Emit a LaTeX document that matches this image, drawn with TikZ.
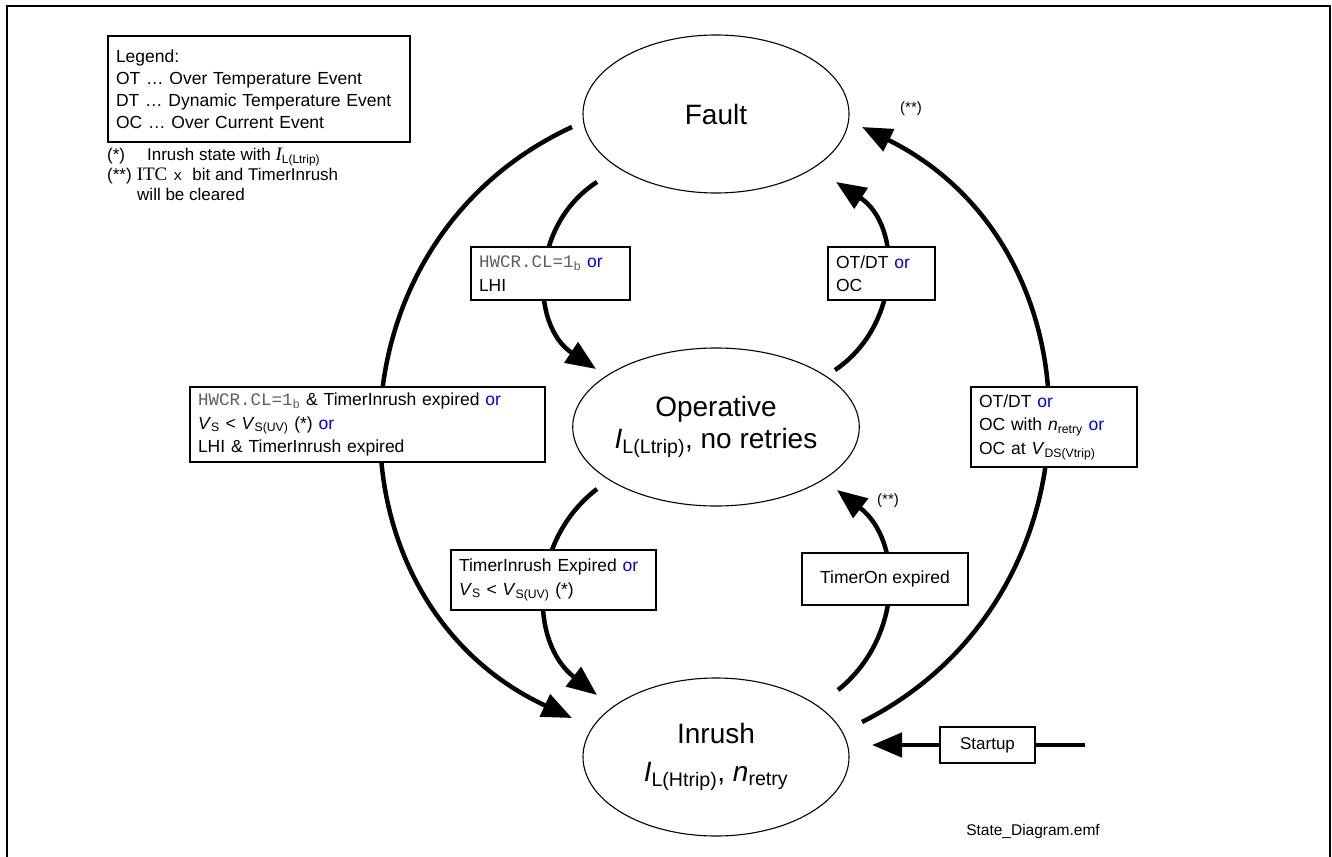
\documentclass[tikz,border=0pt]{standalone}
\usepackage{fontspec}
\setmainfont{Liberation Sans}
\newfontfamily\monofont{Liberation Mono}
\newfontfamily\seriffont{Liberation Serif}
\usetikzlibrary{arrows.meta,shapes.geometric}
\definecolor{orblue}{RGB}{0,0,235}
\definecolor{codegray}{RGB}{95,95,95}
\newcommand{\orword}{\textcolor{orblue}{or}}
\newcommand{\hwcrcl}{{\monofont\color{codegray}HWCR.CL=1\textsubscript{b}}}
\newcommand{\subsc}[1]{\textsubscript{#1}}
\begin{document}
\begin{tikzpicture}[x=1pt,y=-1pt,
  state/.style={draw, ellipse, line width=1.1pt, minimum width=266pt, minimum height=158pt, inner sep=0pt, align=center, font=\fontsize{28}{32}\selectfont},
  cond/.style={draw, fill=white, line width=1.1pt, inner xsep=8pt, inner ysep=0pt, align=left, font=\fontsize{17.5}{23.5}\selectfont},
  trans/.style={line width=4.5pt, -{Triangle[length=30pt,width=24pt]}},
  plainline/.style={line width=4.5pt},
  note/.style={anchor=west, inner sep=0pt, font=\fontsize{17}{20}\selectfont},
  starnote/.style={inner sep=0pt, font=\fontsize{15}{18}\selectfont},
]
\useasboundingbox (0,0) rectangle (1332,856);
\draw[line width=1.8pt] (7,880) -- (7,6) -- (1330,6) -- (1330,880);

% states
\node[state] (fault) at (716,114) {Fault};
\node[state] (oper) at (716,427) {Operative\\\textit{I}\subsc{L(Ltrip)}, no retries};
\node[state] (inrush) at (716,757) {Inrush\\[6pt]\textit{I}\subsc{L(Htrip)}, \textit{n}\subsc{retry}};

% connector end points
\coordinate (a1s) at (572,127);
\coordinate (a1e) at (572,718);
\coordinate (a2s) at (597,182);
\coordinate (a2e) at (596,369);
\coordinate (a3s) at (835,370);
\coordinate (a3e) at (836,182);
\coordinate (a4s) at (862,722);
\coordinate (a4e) at (862,127);
\coordinate (a5s) at (597,489);
\coordinate (a5e) at (597,695);
\coordinate (a6s) at (838,690);
\coordinate (a6e) at (837,490);
\coordinate (a7s) at (1085,745);
\coordinate (a7e) at (872,745);

% transitions
\draw[trans] (a1s) .. controls (321,243) and (320,601) .. (a1e);
\draw[trans] (a2s) .. controls (530,225) and (530,325) .. (a2e);
\draw[trans] (a3s) .. controls (902,325) and (902,225) .. (a3e);
\draw[trans] (a4s) .. controls (1107,599) and (1107,248) .. (a4e);
\draw[trans] (a5s) .. controls (529,541) and (529,642) .. (a5e);
\draw[trans] (a6s) .. controls (903,638) and (903,541) .. (a6e);

% condition boxes
\node[cond, text width=143pt, minimum height=53pt] (c2) at (550.5,273.5) {\hwcrcl\ \orword\\LHI};
\node[cond, text width=91pt, minimum height=53pt] (c3) at (881.5,273.5) {OT/DT \orword\\OC};
\node[cond, text width=339pt, minimum height=75pt] (c1) at (367.5,424.5) {\hwcrcl\ \& TimerInrush expired \orword\\\textit{V}\subsc{S} < \textit{V}\subsc{S(UV)} (*) \orword\\LHI \& TimerInrush expired};
\node[cond, text width=150pt, minimum height=80pt] (c4) at (1054,427) {OT/DT \orword\\OC with \textit{n}\subsc{retry} \orword\\OC at \textit{V}\subsc{DS(Vtrip)}};
\node[cond, text width=189pt, minimum height=60pt] (c5) at (553.5,580) {TimerInrush Expired \orword\\\textit{V}\subsc{S} < \textit{V}\subsc{S(UV)} (*)};
\node[cond, align=center, inner xsep=0pt, minimum width=166pt, minimum height=52pt] (c6) at (885,579) {TimerOn expired};
\node[cond, align=center, inner xsep=0pt, minimum width=95pt, minimum height=36pt, font=\fontsize{17}{20}\selectfont] (startup) at (987.5,745) {Startup};

\draw[plainline] (a7s) -- (startup.east);
\draw[trans] (startup.west) -- (a7e);

\node[starnote] (s1) at (911,109) {(**)};
\node[starnote] (s2) at (888,501) {(**)};

% legend
\node[cond, fill=none, text width=286pt, minimum height=106pt, font=\fontsize{17.5}{22}\selectfont] (legend) at (259,89) {Legend:\\OT … Over Temperature Event\\DT … Dynamic Temperature Event\\OC … Over Current Event};
\node[note] (n1) at (107,157) {(*)\hspace{22pt}Inrush state with {\seriffont\itshape\fontsize{19}{20}\selectfont I}\subsc{L(Ltrip)}};
\node[note] (n2) at (107,176) {(**)\hspace{5pt}{\seriffont\fontsize{19}{20}\selectfont ITC\hspace{6pt}{\monofont\fontsize{15}{20}\selectfont x}}\hspace{10pt}bit and TimerInrush};
\node[note] (n3) at (137,194) {will be cleared};

\node[starnote, font=\fontsize{15.5}{18}\selectfont] (fname) at (1033,831) {State\_Diagram.emf};
\end{tikzpicture}
\end{document}
